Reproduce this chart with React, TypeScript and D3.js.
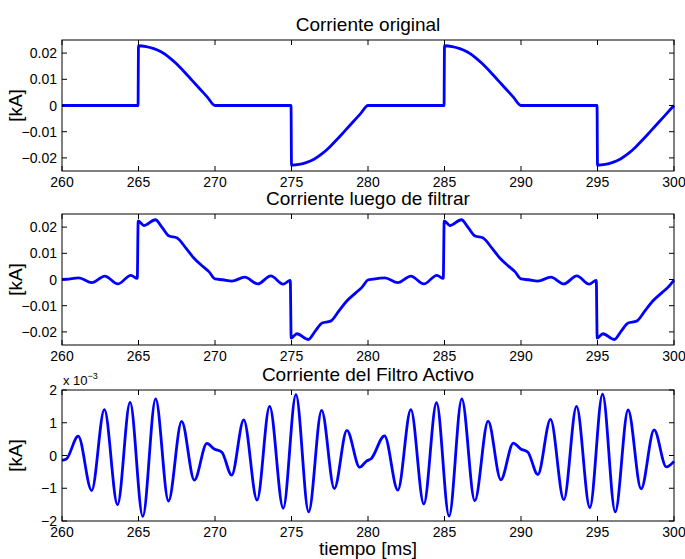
import React from "react";
import * as d3 from "d3";

// ---------- data ----------
const xTicks = [260, 265, 270, 275, 280, 285, 290, 295, 300];
const yTicksA = [-0.02, -0.01, 0, 0.01, 0.02];
const yTickLabelsA = ["\u22120.02", "\u22120.01", "0", "0.01", "0.02"];
const yTicksC = [-2, -1, 0, 1, 2];
const yTickLabelsC = ["\u22122", "\u22121", "0", "1", "2"];
const titles = ["Corriente original", "Corriente luego de filtrar", "Corriente del Filtro Activo"];

// Corriente original [kA]
const origT = [
  260, 264.97, 265, 265.5, 266, 266.5, 267, 267.5, 268, 268.5, 269, 269.5, 270,
  274.97, 275, 275.5, 276, 276.5, 277, 277.5, 278, 278.5, 279, 279.5, 280,
  284.97, 285, 285.5, 286, 286.5, 287, 287.5, 288, 288.5, 289, 289.5, 290,
  294.97, 295, 295.5, 296, 296.5, 297, 297.5, 298, 298.5, 299, 299.5, 300,
];
const origV = [
  0, 0, 0.0228, 0.0225, 0.0217, 0.0204, 0.0184, 0.0158, 0.0128, 0.0096, 0.0064, 0.0032, 0,
  0, -0.0228, -0.0225, -0.0217, -0.0204, -0.0184, -0.0158, -0.0128, -0.0096, -0.0064, -0.0032, 0,
  0, 0.0228, 0.0225, 0.0217, 0.0204, 0.0184, 0.0158, 0.0128, 0.0096, 0.0064, 0.0032, 0,
  0, -0.0228, -0.0225, -0.0217, -0.0204, -0.0184, -0.0158, -0.0128, -0.0096, -0.0064, -0.0032, 0,
];

// Corriente luego de filtrar [kA]
const filtT = [
  260, 260.3, 261.1, 261.95, 262.8, 263.65, 264.5, 264.92, 264.98, 265.35, 266.1, 266.55, 267.0, 267.5,
  268.1, 268.6, 269.2, 269.6, 270.0, 270.5, 271.1, 271.95, 272.8, 273.65, 274.45, 274.92, 274.98,
  275.35, 276.1, 276.55, 277.0, 277.55, 278.1, 278.6, 279.2, 279.6, 280.0,
  280.3, 281.1, 281.95, 282.8, 283.65, 284.5, 284.92, 284.98, 285.35, 286.1, 286.55, 287.0, 287.5,
  288.1, 288.6, 289.2, 289.6, 290.0, 290.5, 291.1, 291.95, 292.8, 293.65, 294.45, 294.92, 294.98,
  295.35, 296.1, 296.55, 297.0, 297.55, 298.1, 298.6, 299.2, 299.6, 300.0,
];
const filtV = [
  0, 0.0001, 0.0006, -0.0012, 0.0013, -0.0017, 0.0016, 0.0004, 0.0224, 0.0206, 0.0228, 0.0198, 0.0166, 0.0159,
  0.012, 0.0083, 0.005, 0.003, 0.0002, -0.0001, -0.0006, 0.0009, -0.0017, 0.0014, -0.0018, -0.0003, -0.0224,
  -0.0207, -0.0229, -0.0197, -0.0166, -0.0159, -0.012, -0.0083, -0.0051, -0.003, -0.0002,
  0.0001, 0.0006, -0.0012, 0.0013, -0.0017, 0.0016, 0.0004, 0.0224, 0.0206, 0.0228, 0.0198, 0.0166, 0.0159,
  0.012, 0.0083, 0.005, 0.003, 0.0002, -0.0001, -0.0006, 0.0009, -0.0017, 0.0014, -0.0018, -0.0003, -0.0224,
  -0.0207, -0.0229, -0.0197, -0.0166, -0.0159, -0.012, -0.0083, -0.0051, -0.003, -0.0002,
];

// Corriente del Filtro Activo [x 10^-3 kA]
const actT = [
  260, 260.3, 261.06, 261.94, 262.77, 263.63, 264.45, 265.28, 266.12, 266.96, 267.82, 268.65, 269.47,
  269.95, 270.45, 271.09, 271.88, 272.75, 273.57, 274.46, 275.29, 276.12, 276.97, 277.8, 278.62, 279.46,
  279.9, 280.2, 281.08, 281.95, 282.8, 283.65, 284.48, 285.3, 286.13, 286.98, 287.85, 288.68, 289.5,
  289.98, 290.45, 291.1, 291.93, 292.8, 293.63, 294.5, 295.33, 296.16, 297.0, 297.85, 298.7, 299.5, 300,
];
const actV = [
  -0.15, -0.1, 0.59, -1.07, 1.4, -1.5, 1.62, -1.86, 1.73, -1.39, 1.04, -0.75, 0.37,
  0.2, 0.1, -0.6, 1.09, -1.36, 1.5, -1.61, 1.86, -1.72, 1.38, -1.01, 0.77, -0.36,
  -0.17, -0.1, 0.6, -1.06, 1.4, -1.48, 1.61, -1.85, 1.73, -1.38, 1.05, -0.74, 0.38,
  0.2, 0.1, -0.58, 1.1, -1.35, 1.5, -1.59, 1.87, -1.72, 1.39, -1.02, 0.78, -0.35, -0.18,
];

// ---------- layout ----------
const W = 685;
const H = 559;
const left = 62;
const right = 674;
const panelTops = [40, 214, 390];
const panelH = 131;
const FONT = "'Liberation Sans', Arial, Helvetica, sans-serif";

const xScale = d3.scaleLinear().domain([260, 300]).range([left, right]);

function Panel({ idx, xs, ys, domain, yTicks, yLabels }) {
  const top = panelTops[idx];
  const bottom = top + panelH;
  const yScale = d3.scaleLinear().domain(domain).range([bottom, top]);
  const pts = xs.map((t, i) => [t, ys[i]]);
  const line = d3
    .line()
    .x((d) => xScale(d[0]))
    .y((d) => yScale(d[1]))
    .curve(d3.curveMonotoneX);
  const tl = 5;
  return (
    <g>
      <path d={line(pts)} fill="none" stroke="#0000ff" strokeWidth={2.8} strokeLinejoin="round" />
      <rect x={left} y={top} width={right - left} height={panelH} fill="none" stroke="#000" strokeWidth={1} />
      {xTicks.map((t) => (
        <g key={"x" + t}>
          <line x1={xScale(t)} x2={xScale(t)} y1={bottom} y2={bottom - tl} stroke="#000" />
          <line x1={xScale(t)} x2={xScale(t)} y1={top} y2={top + tl} stroke="#000" />
          <text x={xScale(t)} y={bottom + 16} textAnchor="middle" fontSize={14} fontFamily={FONT}>
            {t}
          </text>
        </g>
      ))}
      {yTicks.map((v, i) => (
        <g key={"y" + v}>
          <line x1={left} x2={left + tl} y1={yScale(v)} y2={yScale(v)} stroke="#000" />
          <line x1={right} x2={right - tl} y1={yScale(v)} y2={yScale(v)} stroke="#000" />
          <text x={left - 5} y={yScale(v) + 5} textAnchor="end" fontSize={14} fontFamily={FONT}>
            {yLabels[i]}
          </text>
        </g>
      ))}
      <text
        transform={`translate(${22},${(top + bottom) / 2}) rotate(-90)`}
        textAnchor="middle"
        fontSize={19}
        fontFamily={FONT}
      >
        [kA]
      </text>
      <text x={(left + right) / 2} y={top - 9} textAnchor="middle" fontSize={19} fontFamily={FONT}>
        {titles[idx]}
      </text>
    </g>
  );
}

export default function App() {
  return (
    <svg
      width={W}
      height={H}
      style={{ position: "absolute", left: 0, top: 0, background: "#fff" }}
    >
      <rect x={0} y={0} width={W} height={H} fill="#fff" />
      <Panel idx={0} xs={origT} ys={origV} domain={[-0.025, 0.025]} yTicks={yTicksA} yLabels={yTickLabelsA} />
      <Panel idx={1} xs={filtT} ys={filtV} domain={[-0.025, 0.025]} yTicks={yTicksA} yLabels={yTickLabelsA} />
      <Panel idx={2} xs={actT} ys={actV} domain={[-2, 2]} yTicks={yTicksC} yLabels={yTickLabelsC} />
      <text x={63} y={385} fontSize={13} fontFamily={FONT}>
        x 10
        <tspan fontSize={9} dy={-6}>
          {"\u22123"}
        </tspan>
      </text>
      <text x={(left + right) / 2} y={555} textAnchor="middle" fontSize={19} fontFamily={FONT}>
        tiempo [ms]
      </text>
    </svg>
  );
}
